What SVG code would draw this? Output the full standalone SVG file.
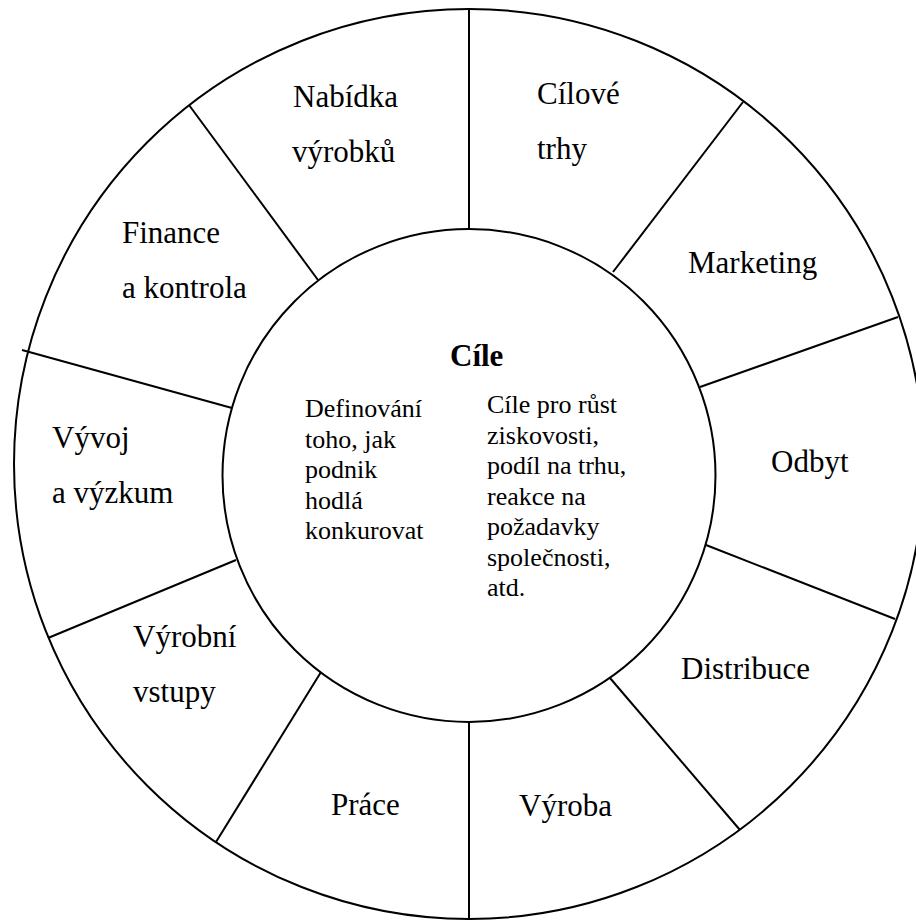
<svg xmlns="http://www.w3.org/2000/svg" width="916" height="920" viewBox="0 0 916 920">
  <style>
    .ring { fill: none; stroke: #000; stroke-width: 2; }
    .div { stroke: #000; stroke-width: 2; stroke-linecap: butt; }
    text { font-family: 'Liberation Serif', 'Times New Roman', serif; fill: #000; }
    .lbl { font-size: 31px; }
    .body { font-size: 26px; }
    .title { font-size: 31px; font-weight: bold; }
  </style>
  <rect width="916" height="920" fill="#fff"/>

  <!-- outer wheel and inner hub -->
  <circle id="outer-ring" class="ring" cx="469" cy="464" r="455"/>
  <circle id="hub-ring" class="ring" cx="469" cy="475.5" r="246.5"/>

  <!-- spokes separating the segments -->
  <g id="connectors">
    <line class="div" x1="469" y1="9" x2="469" y2="229"/>
    <line class="div" x1="743" y1="102" x2="613" y2="272"/>
    <line class="div" x1="898" y1="317" x2="700" y2="387"/>
    <line class="div" x1="895" y1="619" x2="706" y2="545"/>
    <line class="div" x1="740" y1="830" x2="610" y2="678"/>
    <line class="div" x1="469" y1="722" x2="469" y2="919"/>
    <line class="div" x1="216" y1="842" x2="321" y2="672"/>
    <line class="div" x1="48" y1="638" x2="236" y2="560"/>
    <line class="div" x1="22" y1="350" x2="232" y2="408"/>
    <line class="div" x1="189" y1="105" x2="318" y2="280"/>
  </g>

  <g id="nabidka">
    <text class="lbl" x="293" y="107">Nabídka</text>
    <text class="lbl" x="292" y="162">výrobků</text>
  </g>
  <g id="cilove-trhy">
    <text class="lbl" x="537" y="104">Cílové</text>
    <text class="lbl" x="537" y="159">trhy</text>
  </g>
  <g id="marketing">
    <text class="lbl" x="688" y="273">Marketing</text>
  </g>
  <g id="odbyt">
    <text class="lbl" x="771" y="472">Odbyt</text>
  </g>
  <g id="distribuce">
    <text class="lbl" x="681" y="679">Distribuce</text>
  </g>
  <g id="vyroba">
    <text class="lbl" x="519" y="816">Výroba</text>
  </g>
  <g id="prace">
    <text class="lbl" x="331" y="815">Práce</text>
  </g>
  <g id="vyrobni-vstupy">
    <text class="lbl" x="133" y="647">Výrobní</text>
    <text class="lbl" x="133" y="702">vstupy</text>
  </g>
  <g id="vyvoj">
    <text class="lbl" x="52" y="448">Vývoj</text>
    <text class="lbl" x="52" y="503">a výzkum</text>
  </g>
  <g id="finance">
    <text class="lbl" x="122" y="243">Finance</text>
    <text class="lbl" x="122" y="298">a kontrola</text>
  </g>

  <g id="cile">
    <text class="title" x="450" y="366">Cíle</text>
    <text class="body">
      <tspan x="305" y="417">Definování</tspan>
      <tspan x="305" y="447.5">toho, jak</tspan>
      <tspan x="305" y="478">podnik</tspan>
      <tspan x="305" y="508.5">hodlá</tspan>
      <tspan x="305" y="539">konkurovat</tspan>
    </text>
    <text class="body">
      <tspan x="487" y="413">Cíle pro růst</tspan>
      <tspan x="487" y="443.5">ziskovosti,</tspan>
      <tspan x="487" y="474">podíl na trhu,</tspan>
      <tspan x="487" y="504.5">reakce na</tspan>
      <tspan x="487" y="535">požadavky</tspan>
      <tspan x="487" y="565.5">společnosti,</tspan>
      <tspan x="487" y="596">atd.</tspan>
    </text>
  </g>
</svg>
